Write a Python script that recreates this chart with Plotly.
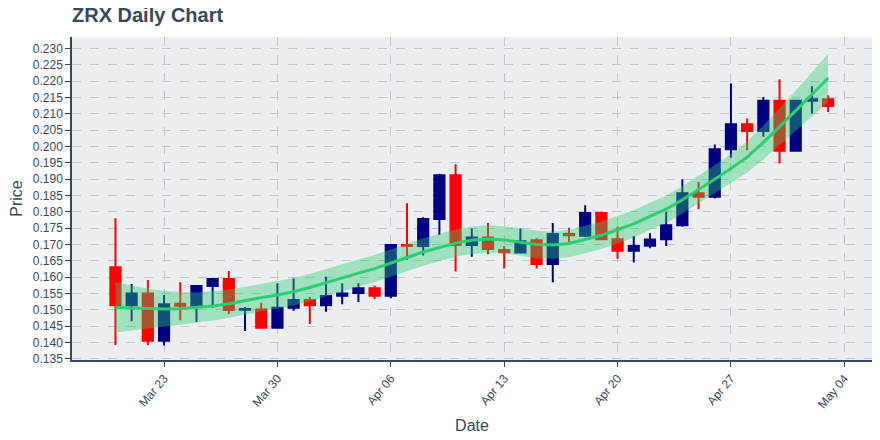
import plotly.graph_objects as go
import pandas as pd

dates = pd.date_range("2020-03-20", "2020-05-03", freq="D")

open_ = [0.1630, 0.1514, 0.1550, 0.1405, 0.1518, 0.1512, 0.1573, 0.1594, 0.1500, 0.1501,
         0.1445, 0.1506, 0.1530, 0.1514, 0.1543, 0.1551, 0.1566, 0.1543, 0.1698, 0.1695,
         0.1778, 0.1912, 0.1698, 0.1721, 0.1683, 0.1675, 0.1713, 0.1640, 0.1732, 0.1727,
         0.1796, 0.1716, 0.1681, 0.1696, 0.1716, 0.1759, 0.1857, 0.1846, 0.1992, 0.2068,
         0.2048, 0.2140, 0.1987, 0.2140, 0.2145]
high = [0.1780, 0.1579, 0.1591, 0.1545, 0.1584, 0.1575, 0.1598, 0.1619, 0.1508, 0.1521,
        0.1581, 0.1596, 0.1540, 0.1601, 0.1581, 0.1581, 0.1574, 0.1698, 0.1826, 0.1783,
        0.1917, 0.1946, 0.1749, 0.1766, 0.1695, 0.1749, 0.1719, 0.1766, 0.1751, 0.1820,
        0.1800, 0.1754, 0.1726, 0.1734, 0.1800, 0.1900, 0.1892, 0.2006, 0.2193, 0.2086,
        0.2152, 0.2206, 0.2140, 0.2185, 0.2157]
low = [0.1392, 0.1465, 0.1391, 0.1390, 0.1468, 0.1462, 0.1506, 0.1487, 0.1435, 0.1445,
       0.1445, 0.1497, 0.1456, 0.1494, 0.1517, 0.1524, 0.1532, 0.1535, 0.1652, 0.1666,
       0.1729, 0.1617, 0.1662, 0.1670, 0.1626, 0.1674, 0.1626, 0.1584, 0.1705, 0.1723,
       0.1714, 0.1656, 0.1645, 0.1688, 0.1695, 0.1754, 0.1808, 0.1841, 0.1966, 0.1989,
       0.2030, 0.1948, 0.1984, 0.2101, 0.2106]
close = [0.1514, 0.1550, 0.1405, 0.1517, 0.1512, 0.1573, 0.1594, 0.1499, 0.1502, 0.1445,
         0.1506, 0.1530, 0.1514, 0.1542, 0.1550, 0.1566, 0.1543, 0.1698, 0.1695, 0.1778,
         0.1912, 0.1698, 0.1721, 0.1686, 0.1676, 0.1710, 0.1640, 0.1732, 0.1728, 0.1796,
         0.1716, 0.1681, 0.1695, 0.1715, 0.1759, 0.1857, 0.1846, 0.1992, 0.2068, 0.2048,
         0.2140, 0.1987, 0.2140, 0.2145, 0.2124]

trend = [0.1507, 0.1505, 0.1503, 0.1502, 0.1503, 0.1506, 0.1511, 0.1518, 0.1528, 0.1537,
         0.1545, 0.1555, 0.1568, 0.1583, 0.1599, 0.1612, 0.1626, 0.1642, 0.1660, 0.1677,
         0.1691, 0.1704, 0.1713, 0.1717, 0.1714, 0.1707, 0.1700, 0.1698, 0.1703, 0.1715,
         0.1728, 0.1745, 0.1763, 0.1786, 0.1808, 0.1837, 0.1868, 0.1900, 0.1933, 0.1968,
         0.2012, 0.2060, 0.2110, 0.2160, 0.2210]
band_upper = [0.1584, 0.1574, 0.1565, 0.1558, 0.1554, 0.1553, 0.1556, 0.1561, 0.1570, 0.1579,
              0.1587, 0.1597, 0.1610, 0.1625, 0.1641, 0.1654, 0.1668, 0.1684, 0.1702, 0.1719,
              0.1733, 0.1746, 0.1755, 0.1759, 0.1756, 0.1749, 0.1742, 0.1740, 0.1745, 0.1757,
              0.1770, 0.1787, 0.1805, 0.1828, 0.1850, 0.1879, 0.1910, 0.1943, 0.1978, 0.2016,
              0.2064, 0.2117, 0.2172, 0.2228, 0.2285]
band_lower = [0.1430, 0.1436, 0.1441, 0.1446, 0.1452, 0.1459, 0.1466, 0.1475, 0.1486, 0.1495,
              0.1503, 0.1513, 0.1526, 0.1541, 0.1557, 0.1570, 0.1584, 0.1600, 0.1618, 0.1635,
              0.1649, 0.1662, 0.1671, 0.1675, 0.1672, 0.1665, 0.1658, 0.1656, 0.1661, 0.1673,
              0.1686, 0.1703, 0.1721, 0.1744, 0.1766, 0.1795, 0.1826, 0.1857, 0.1888, 0.1920,
              0.1960, 0.2003, 0.2048, 0.2092, 0.2135]

TXT = "#34495e"
FONT = "Liberation Sans, Arial, Helvetica, sans-serif"
GREEN = "rgb(46,204,113)"

fig = go.Figure()
fig.add_trace(go.Candlestick(
    x=dates, open=open_, high=high, low=low, close=close,
    increasing=dict(line=dict(color="#000080", width=2), fillcolor="#000080"),
    decreasing=dict(line=dict(color="#ff0000", width=2), fillcolor="#ff0000"),
    showlegend=False, hoverinfo="skip"))
fig.add_trace(go.Scatter(x=dates, y=band_lower, mode="lines",
                         line=dict(width=0, color=GREEN), showlegend=False, hoverinfo="skip"))
fig.add_trace(go.Scatter(x=dates, y=band_upper, mode="lines", fill="tonexty",
                         fillcolor="rgba(46,204,113,0.4)",
                         line=dict(width=0, color=GREEN), showlegend=False, hoverinfo="skip"))
fig.add_trace(go.Scatter(x=dates, y=trend, mode="lines",
                         line=dict(width=3, color=GREEN), showlegend=False, hoverinfo="skip"))

fig.update_layout(
    width=880, height=440,
    margin=dict(l=64, r=16, t=29, b=88, autoexpand=False),
    paper_bgcolor="white", plot_bgcolor="#eceff1",
    font=dict(family=FONT, color=TXT, size=12),
    title=dict(text="<b>ZRX Daily Chart</b>", x=0, xref="paper", xanchor="left",
               y=1.0, yref="container", yanchor="top",
               font=dict(size=20, color=TXT, family=FONT)),
    boxgap=0.1,
    showlegend=False,
)
fig.update_xaxes(
    type="date", range=["2020-03-17 07:37", "2020-05-05 17:00"],
    tick0="2020-03-23", dtick=7 * 86400000, tickformat="%b %d", tickangle=-50,
    tickfont=dict(size=12),
    showgrid=True, gridcolor="#c3c6ca", griddash="dash", gridwidth=1,
    showline=True, linecolor=TXT, linewidth=1.5,
    ticks="outside", ticklen=5, tickcolor=TXT,
    rangeslider=dict(visible=False), automargin=False,
    title=dict(text="Date", font=dict(size=16, color=TXT), standoff=10),
    zeroline=False,
)
fig.update_yaxes(
    range=[0.13459, 0.23357], tick0=0.135, dtick=0.005, tickformat=".3f",
    tickfont=dict(size=12),
    showgrid=True, gridcolor="#c3c6ca", griddash="dash", gridwidth=1,
    showline=True, linecolor=TXT, linewidth=1.5,
    ticks="outside", ticklen=5, tickcolor=TXT, automargin=False,
    title=dict(text="Price", font=dict(size=16, color=TXT), standoff=8),
    zeroline=False,
)

fig.write_html("out.html")
